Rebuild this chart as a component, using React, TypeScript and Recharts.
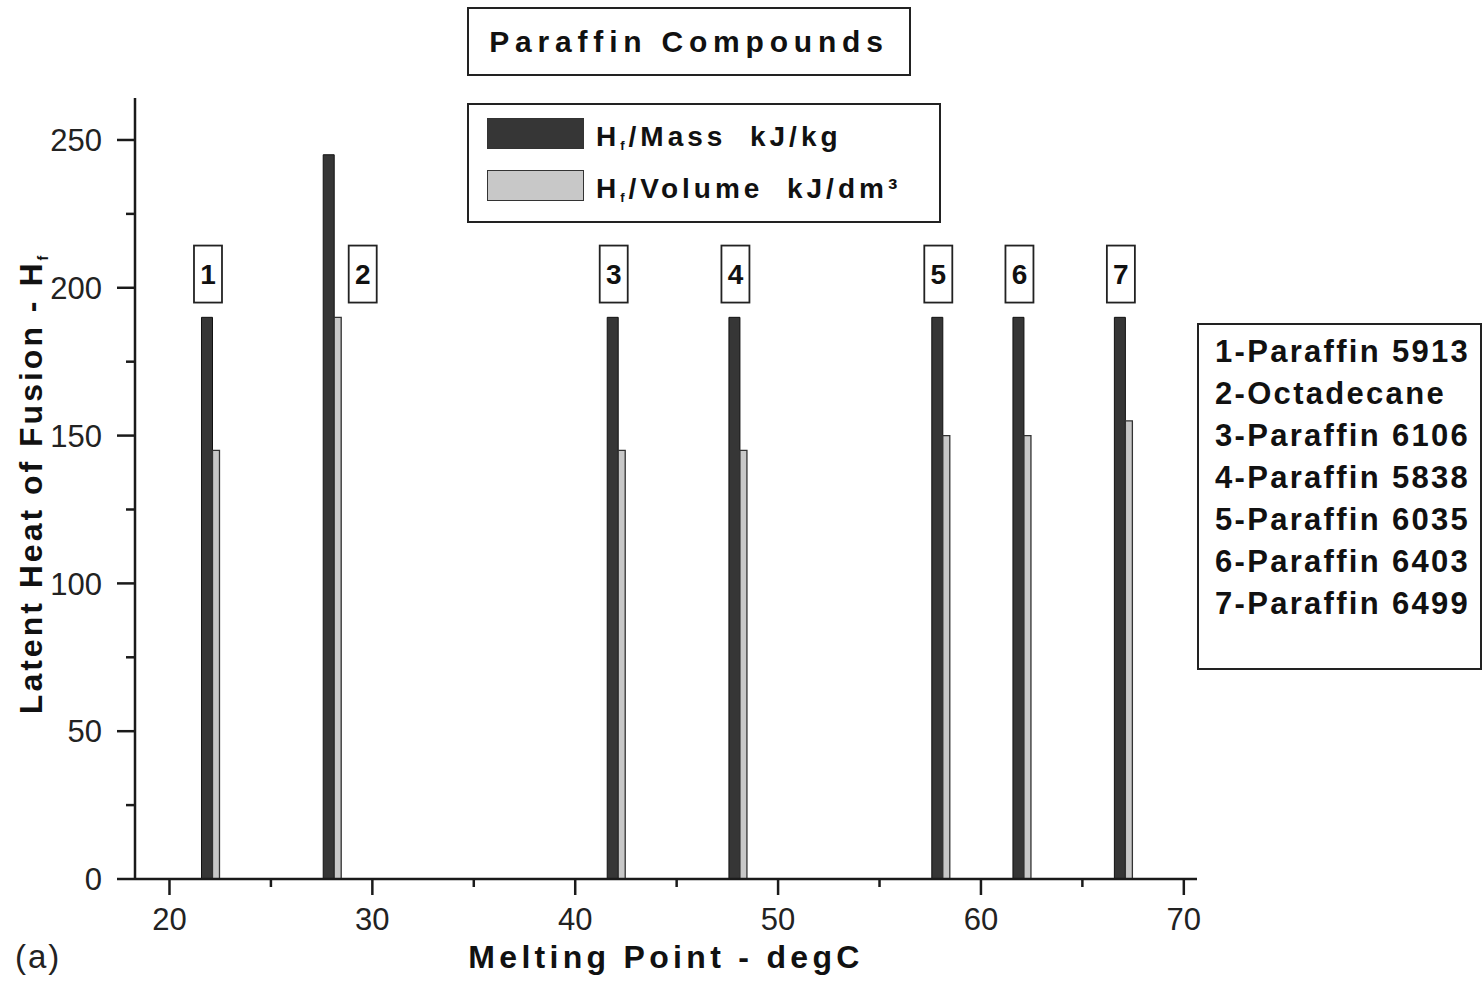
import { ComposedChart, Bar, XAxis, YAxis, Legend, LabelList } from 'recharts'

// melting point (degC) of each compound and its latent heat of fusion
const meltingPoints = [22, 28, 42, 48, 58, 62, 67]
const heatPerMass = [190, 245, 190, 190, 190, 190, 190] // kJ/kg
const heatPerVolume = [145, 190, 145, 145, 150, 150, 155] // kJ/dm3
const compounds = [
  'Paraffin 5913',
  'Octadecane',
  'Paraffin 6106',
  'Paraffin 5838',
  'Paraffin 6035',
  'Paraffin 6403',
  'Paraffin 6499',
]

const xTicks = [20, 25, 30, 35, 40, 45, 50, 55, 60, 65, 70]
const yTicks = [0, 25, 50, 75, 100, 125, 150, 175, 200, 225, 250]

const data = meltingPoints.map((mp, i) => ({
  mp,
  mass: heatPerMass[i],
  volume: heatPerVolume[i],
}))

const FONT = '"Liberation Sans", Arial, Helvetica, sans-serif'
const INK = '#1a1a1a'
const DARK = '#363636'
const LIGHT = '#c8c8c8'
const DARK_W = 11
const LIGHT_W = 7
// the numbered tags sit just above this level
const TAG_BASE = 195

const YTick = (props: any) => {
  const { x, y, payload } = props
  const major = payload.value % 50 === 0
  return (
    <g>
      <line x1={x - (major ? 18 : 9)} x2={x} y1={y} y2={y} stroke={INK} strokeWidth={2.5} />
      {major && (
        <text x={x - 33} y={y} dy="0.36em" textAnchor="end" fontSize={31} fill="#222" fontFamily={FONT}>
          {payload.value}
        </text>
      )}
    </g>
  )
}

const XTick = (props: any) => {
  const { x, y, payload } = props
  const major = payload.value % 10 === 0
  return (
    <g>
      <line x1={x} x2={x} y1={y} y2={y + (major ? 16 : 8)} stroke={INK} strokeWidth={2.5} />
      {major && (
        <text x={x} y={y + 51} textAnchor="middle" fontSize={31} fill="#222" fontFamily={FONT}>
          {payload.value}
        </text>
      )}
    </g>
  )
}

const YTitle = (props: any) => {
  const vb = props.viewBox
  const tx = vb.x - 33
  const ty = vb.y + vb.height / 2 - 5
  return (
    <text
      x={tx}
      y={ty}
      transform={`rotate(-90, ${tx}, ${ty})`}
      textAnchor="middle"
      fontSize={32}
      fontWeight="bold"
      letterSpacing={3}
      fill="#111"
      fontFamily={FONT}
    >
      Latent Heat of Fusion - H
      <tspan fontSize={14} dy={6}>f</tspan>
    </text>
  )
}

const XTitle = (props: any) => {
  const vb = props.viewBox
  return (
    <text
      x={vb.x + vb.width / 2}
      y={vb.y + 89}
      textAnchor="middle"
      fontSize={32}
      fontWeight="bold"
      letterSpacing={4.3}
      fill="#111"
      fontFamily={FONT}
    >
      Melting Point - degC
    </text>
  )
}

// boxed compound number over the dark bar; moved aside when that bar is taller
const Tag = (props: any) => {
  const vb = props.viewBox && props.viewBox.width != null ? props.viewBox : props
  const { x, y, width, height } = vb
  const value = Number(props.value)
  const base = y + height
  const ppu = height / value
  const bottom = base - TAG_BASE * ppu
  let cx = x + width / 2 + 1
  if (value > TAG_BASE) cx += 33
  const w = 28
  const h = 57
  return (
    <g>
      <rect x={cx - w / 2} y={bottom - h} width={w} height={h} fill="#fff" stroke="#222" strokeWidth={1.8} />
      <text
        x={cx}
        y={bottom - h / 2}
        dy="0.36em"
        textAnchor="middle"
        fontSize={28}
        fontWeight="bold"
        fill="#111"
        fontFamily={FONT}
      >
        {props.index + 1}
      </text>
    </g>
  )
}

const SeriesLegend = (props: any) => {
  const items = props.payload || []
  return (
    <div
      style={{
        position: 'relative',
        width: 470,
        height: 116,
        border: '2px solid #222',
        background: '#fff',
        fontFamily: FONT,
        boxSizing: 'content-box',
      }}
    >
      {items.map((it: any, i: number) => (
        <div
          key={it.value}
          style={{ position: 'absolute', left: 18, top: 13 + 52 * i, display: 'flex', alignItems: 'flex-start' }}
        >
          <div
            style={{
              width: 95,
              height: 29,
              background: it.color,
              border: '1.5px solid #333',
            }}
          />
          <div
            style={{
              marginLeft: 12,
              fontSize: 28,
              lineHeight: '31px',
              fontWeight: 'bold',
              letterSpacing: 4,
              color: '#111',
              whiteSpace: 'pre',
              position: 'relative',
              top: 3,
            }}
          >
            H<span style={{ fontSize: 13, position: 'relative', top: 4 }}>f</span>
            {it.value}
          </div>
        </div>
      ))}
    </div>
  )
}

export default function App() {
  return (
    <div style={{ position: 'absolute', left: 0, top: 0, width: 1482, height: 983, background: '#fff' }}>
      <ComposedChart
        width={1482}
        height={983}
        data={data}
        barGap={0}
        margin={{ top: 98, right: 285, bottom: 44, left: 75 }}
      >
        <XAxis
          type="number"
          dataKey="mp"
          domain={[18.3, 70.65]}
          ticks={xTicks}
          interval={0}
          tickSize={0}
          tickMargin={0}
          tickLine={false}
          tick={XTick}
          height={60}
          axisLine={{ stroke: INK, strokeWidth: 2.5 }}
          label={XTitle}
        />
        <YAxis
          type="number"
          domain={[0, 264.2]}
          ticks={yTicks}
          interval={0}
          tickSize={0}
          tickMargin={0}
          tickLine={false}
          tick={YTick}
          width={60}
          axisLine={{ stroke: INK, strokeWidth: 2.5 }}
          label={YTitle}
        />
        <Legend
          layout="horizontal"
          verticalAlign="middle"
          align="center"
          wrapperStyle={{ left: 467, top: 103, width: 'auto' }}
          content={SeriesLegend}
        />
        <Bar
          dataKey="mass"
          name="/Mass  kJ/kg"
          fill={DARK}
          stroke="#111"
          strokeWidth={1}
          barSize={DARK_W}
          isAnimationActive={false}
        >
          <LabelList dataKey="mass" content={Tag} />
        </Bar>
        <Bar
          dataKey="volume"
          name="/Volume  kJ/dm³"
          fill={LIGHT}
          stroke="#333"
          strokeWidth={1.3}
          barSize={LIGHT_W}
          isAnimationActive={false}
        />
      </ComposedChart>

      <div
        style={{
          position: 'absolute',
          left: 467,
          top: 7,
          width: 440,
          height: 65,
          border: '2px solid #222',
          display: 'flex',
          alignItems: 'center',
          justifyContent: 'center',
          fontFamily: FONT,
          fontSize: 30,
          fontWeight: 'bold',
          letterSpacing: 5.8,
          color: '#111',
        }}
      >
        Paraffin Compounds
      </div>

      <div
        style={{
          position: 'absolute',
          left: 1197,
          top: 323,
          width: 281,
          height: 343,
          border: '2px solid #222',
          boxSizing: 'content-box',
          fontFamily: FONT,
          fontSize: 31,
          fontWeight: 'bold',
          letterSpacing: 2.3,
          color: '#111',
        }}
      >
        <div style={{ paddingTop: 6, paddingLeft: 16 }}>
          {compounds.map((c, i) => (
            <div key={c} style={{ lineHeight: '42px', whiteSpace: 'nowrap' }}>
              {i + 1}-{c}
            </div>
          ))}
        </div>
      </div>

      <div
        style={{
          position: 'absolute',
          left: 15,
          top: 938,
          fontFamily: FONT,
          fontSize: 33,
          letterSpacing: 2,
          color: '#222',
          lineHeight: '38px',
        }}
      >
        (a)
      </div>
    </div>
  )
}
